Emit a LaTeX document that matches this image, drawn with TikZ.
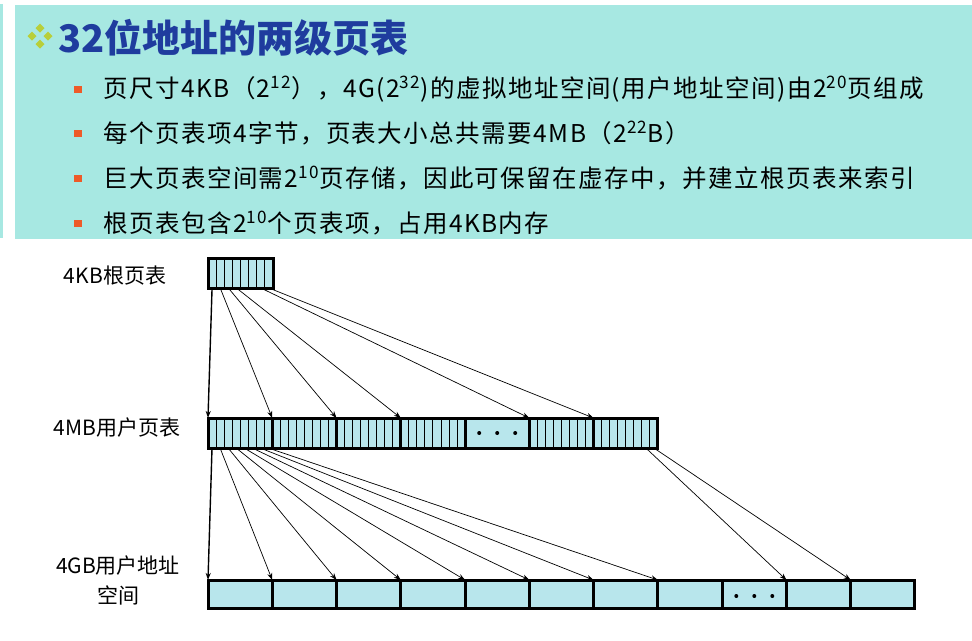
\documentclass[tikz,border=0pt]{standalone}
\usepackage{fontspec}
\setmainfont{Noto Sans CJK SC}
\newfontfamily\itemfont{Noto Sans CJK SC}[LetterSpace=6]
\usetikzlibrary{calc,arrows.meta}
\definecolor{banner}{HTML}{A7E8E2}
\definecolor{titleblue}{HTML}{1F3C9E}
\definecolor{bulletred}{HTML}{EE5A28}
\definecolor{leafgreen}{HTML}{B8CF3A}
\definecolor{cellblue}{HTML}{B8E6EC}
\tikzset{
  grp/.style={draw, line width=3pt, fill=cellblue, minimum width=64.27pt,
              minimum height=30pt, inner sep=0pt, outer sep=0pt},
  page/.style={grp, minimum height=28pt},
  ptr/.style={-{Stealth[length=7pt,width=5pt]}, line width=0.7pt},
  lbl/.style={font=\fontsize{21}{30}\selectfont, align=center},
  item/.style={anchor=west, font=\itemfont\fontsize{24.5}{28}\selectfont, inner sep=0pt},
}

\begin{document}
\begin{tikzpicture}[x=1pt,y=-1pt]
\useasboundingbox (0,0) rectangle (972,640);

% banner
\fill[banner] (0,4) rectangle (3,238);
\fill[banner] (15,5) rectangle (972,239);
\foreach \dx/\dy in {40/28,32/36,48/36,40/44}
  \fill[leafgreen] (\dx,\dy-4.5)--(\dx+4.5,\dy)--(\dx,\dy+4.5)--(\dx-4.5,\dy)--cycle;
\node[anchor=west, inner sep=0pt, text=titleblue,
      font=\fontsize{38}{40}\selectfont\bfseries] (title) at (58,38) {32位地址的两级页表};

% bullet lines
\foreach \y in {89,133,178,223}
  \fill[bulletred] (74,\y-3.5) rectangle (81.5,\y+3.5);
\node[item] (t1) at (103,89) {页尺寸4KB（2\textsuperscript{12}），4G(2\textsuperscript{32})的虚拟地址空间(用户地址空间)由2\textsuperscript{20}页组成};
\node[item] (t2) at (103,133) {每个页表项4字节，页表大小总共需要4MB（2\textsuperscript{22}B）};
\node[item] (t3) at (103,178) {巨大页表空间需2\textsuperscript{10}页存储，因此可保留在虚存中，并建立根页表来索引};
\node[item] (t4) at (103,223) {根页表包含2\textsuperscript{10}个页表项，占用4KB内存};

% labels
\node[lbl] (lroot) at (115,276) {4KB根页表};
\node[lbl] (lmid) at (117,428) {4MB用户页表};
\node[lbl] (lbot) at (118,580) {4GB用户地址\\空间};

% root page table
\node[grp, minimum width=65pt] (root) at (240.5,273) {};
\foreach \c in {1,...,7}
  \draw[line width=0.9pt] ($(root.north west)!{\c/8}!(root.north east)$) -- ($(root.south west)!{\c/8}!(root.south east)$);

% user page table
\foreach \g in {1,...,7}
  \node[grp] (m\g) at ({208+64.27*(\g-0.5)},433) {};
\foreach \g in {1,2,3,4,6,7}
  \foreach \c in {1,...,7}
    \draw[line width=0.9pt] ($(m\g.north west)!{\c/8}!(m\g.north east)$) -- ($(m\g.south west)!{\c/8}!(m\g.south east)$);
\foreach \dx in {-18,0,18}
  \fill ($(m5.center)+(\dx,0)$) circle (2pt);

% user address space
\foreach \b in {1,...,11}
  \node[page] (b\b) at ({208+64.27*(\b-0.5)},594) {};
\foreach \dx in {-18,0,18}
  \fill ($(b9.center)+(\dx,2)$) circle (2pt);

% root -> page table
\draw[ptr, line width=1.4pt] ($(root.south west)!{0.5/8}!(root.south east)$) -- (m1.north west);
\foreach \c/\g in {2/2,3/3,4/4,7/6,8/7}
  \draw[ptr] ($(root.south west)!{(\c-0.5)/8}!(root.south east)$) -- (m\g.north west);

% page table -> pages
\draw[ptr, line width=1.4pt] ($(m1.south west)!{0.5/8}!(m1.south east)$) -- (b1.north west);
\foreach \c in {2,...,8}
  \draw[ptr] ($(m1.south west)!{(\c-0.5)/8}!(m1.south east)$) -- (b\c.north west);
\foreach \c/\b in {7/10,8/11}
  \draw[ptr] ($(m7.south west)!{(\c-0.5)/8}!(m7.south east)$) -- (b\b.north west);
\end{tikzpicture}
\end{document}
